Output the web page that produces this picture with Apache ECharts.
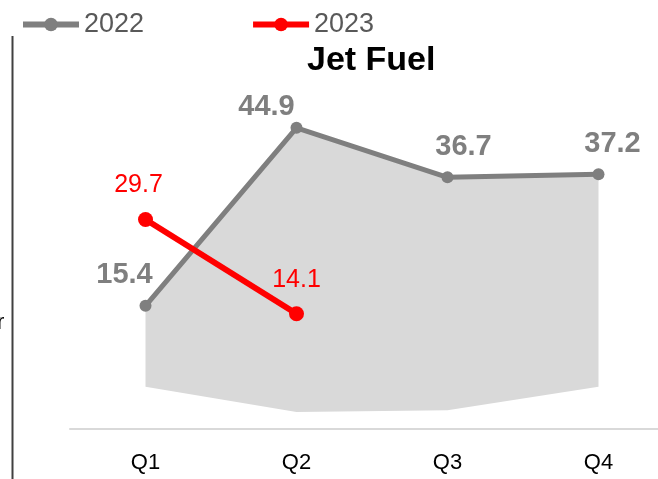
<!DOCTYPE html>
<html>
<head>
<meta charset="utf-8">
<script src="https://cdn.jsdelivr.net/npm/echarts@6/dist/echarts.min.js"></script>
<style>
  html, body { margin: 0; padding: 0; background: #fff; }
  #main { width: 658px; height: 479px; }
</style>
</head>
<body>
<div id="main"></div>
<script>
// 数据
const quarters = ['Q1', 'Q2', 'Q3', 'Q4'];
const values2022 = [15.4, 44.9, 36.7, 37.2];
const values2023 = [29.7, 14.1];
// 灰色区间 (上沿 / 下沿)
const bandHigh = [15.4, 44.9, 36.7, 37.2];
const bandLow = [2.0, -2.2, -1.9, 2.0];

// 区间高度 = 上沿 - 下沿, 叠在下沿上
const bandSpan = bandHigh.map((v, i) => +(v - bandLow[i]).toFixed(1));

// 标签偏移 (样式)
const shift2022 = [[-21, 0], [-30, 10], [16, 0], [14, 0]];
const shift2023 = [[-7, 0], [0, 0]];

const font = 'Liberation Sans, Arial, sans-serif';

let myChart = echarts.init(document.getElementById('main'));

let option = {
    animation: false,
    title: {
        text: 'Jet Fuel',
        left: 302,
        top: 39,
        textStyle: { fontFamily: font, fontSize: 34, fontWeight: 'bold', color: '#000' }
    },
    legend: {
        left: 15,
        top: 6,
        itemWidth: 56,
        itemHeight: 17,
        itemGap: 106,
        data: ['2022', '2023'],
        lineStyle: { width: 6 },
        textStyle: { fontFamily: font, fontSize: 27, color: '#595959' }
    },
    grid: { left: 70, right: -16, top: 97, bottom: 50, outerBoundsMode: 'none' },
    xAxis: {
        type: 'category',
        data: quarters,
        boundaryGap: true,
        axisLine: { onZero: false, lineStyle: { color: '#d9d9d9', width: 2 } },
        axisTick: { show: false },
        axisLabel: { fontFamily: font, fontSize: 22, color: '#000', margin: 23 }
    },
    yAxis: {
        type: 'value',
        min: -5,
        max: 50,
        show: false,
        splitLine: { show: false }
    },
    graphic: [
        {
            type: 'line',
            shape: { x1: 12.5, y1: 36, x2: 12.5, y2: 479 },
            style: { stroke: '#404040', lineWidth: 2 }
        },
        {
            type: 'text',
            left: -3,
            top: 312,
            style: { text: 'r', font: '22px ' + font, fill: '#000' }
        }
    ],
    series: [
        {
            name: 'bandLow',
            type: 'line',
            stack: 'band',
            stackStrategy: 'all',
            data: bandLow,
            symbol: 'none',
            lineStyle: { width: 0, opacity: 0 },
            silent: true,
            z: 1
        },
        {
            name: 'band',
            type: 'line',
            stack: 'band',
            stackStrategy: 'all',
            data: bandSpan,
            symbol: 'none',
            lineStyle: { width: 0, opacity: 0 },
            areaStyle: { color: '#d9d9d9', opacity: 1 },
            silent: true,
            z: 1
        },
        {
            name: '2022',
            type: 'line',
            data: values2022.map((v, i) => ({
                value: v,
                label: { offset: shift2022[i] }
            })),
            symbol: 'circle',
            symbolSize: 12,
            itemStyle: { color: '#7f7f7f' },
            lineStyle: { color: '#7f7f7f', width: 5 },
            label: {
                show: true,
                position: 'top',
                distance: 10,
                fontFamily: font,
                fontSize: 29,
                fontWeight: 'bold',
                color: '#7f7f7f'
            },
            z: 3
        },
        {
            name: '2023',
            type: 'line',
            data: values2023.map((v, i) => ({
                value: v,
                label: { offset: shift2023[i] }
            })),
            symbol: 'circle',
            symbolSize: 15,
            itemStyle: { color: '#ff0000' },
            lineStyle: { color: '#ff0000', width: 6 },
            label: {
                show: true,
                position: 'top',
                distance: 14,
                fontFamily: font,
                fontSize: 25,
                color: '#ff0000'
            },
            z: 4
        }
    ]
};

myChart.setOption(option);
</script>
</body>
</html>
